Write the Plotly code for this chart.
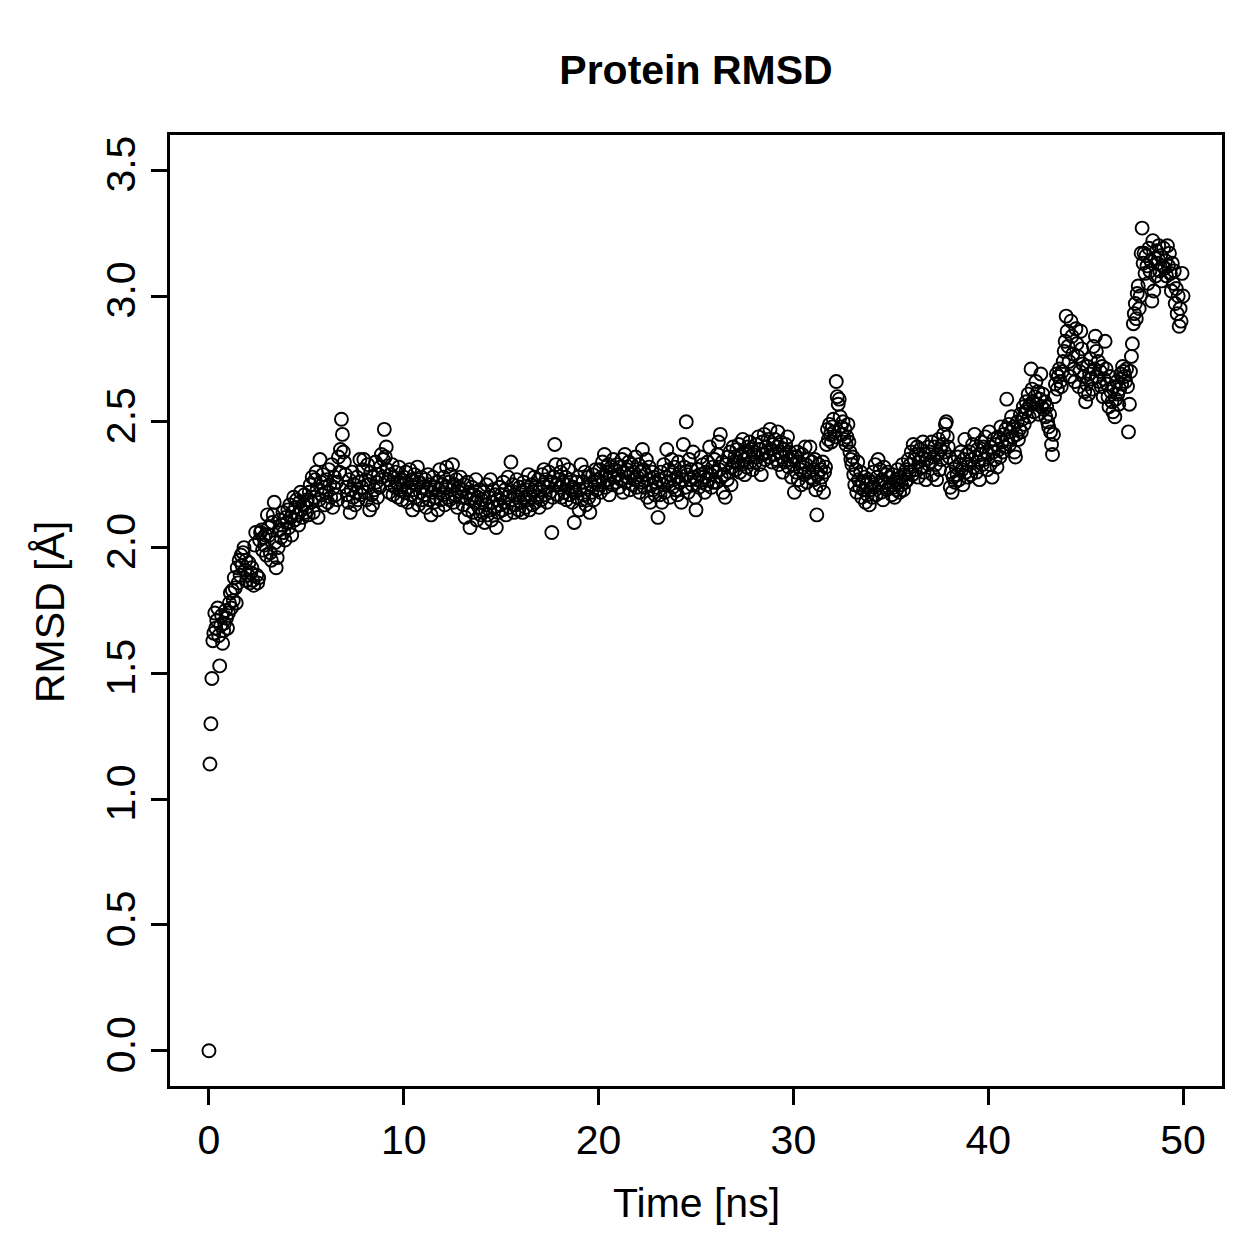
import plotly.graph_objects as go

# RMSD values (Å), one sample every 0.05 ns, rows = 1 ns each
rmsd_00 = [0.00, 1.14, 1.30, 1.48, 1.63, 1.66, 1.74, 1.68, 1.71, 1.76, 1.65, 1.53, 1.69, 1.73, 1.62, 1.67, 1.70, 1.75, 1.72, 1.68]
rmsd_01 = [1.74, 1.78, 1.82, 1.76, 1.83, 1.79, 1.88, 1.84, 1.78, 1.92, 1.86, 1.95, 1.89, 1.97, 1.93, 1.98, 2.00, 1.91, 1.95, 1.87]
rmsd_02 = [1.89, 1.94, 1.86, 1.90, 1.92, 1.87, 1.85, 2.01, 2.06, 1.89, 1.86, 1.88, 2.03, 2.06, 2.07, 1.99, 2.04, 2.01, 2.05, 1.97]
rmsd_03 = [2.13, 2.08, 2.05, 1.98, 1.95, 2.10, 2.13, 2.18, 2.02, 1.92, 1.96, 2.00, 2.07, 2.11, 2.04, 2.09, 2.14, 2.06, 2.03, 2.12]
rmsd_04 = [2.10, 2.15, 2.08, 2.17, 2.12, 2.05, 2.14, 2.20, 2.11, 2.16, 2.19, 2.13, 2.09, 2.18, 2.22, 2.15, 2.12, 2.17, 2.21, 2.14]
rmsd_05 = [2.16, 2.19, 2.13, 2.22, 2.25, 2.18, 2.28, 2.14, 2.20, 2.27, 2.30, 2.23, 2.12, 2.19, 2.35, 2.26, 2.21, 2.29, 2.24, 2.17]
rmsd_06 = [2.22, 2.27, 2.18, 2.31, 2.25, 2.20, 2.33, 2.16, 2.24, 2.28, 2.21, 2.26, 2.19, 2.36, 2.30, 2.39, 2.51, 2.45, 2.38, 2.34]
rmsd_07 = [2.29, 2.24, 2.21, 2.18, 2.27, 2.14, 2.23, 2.30, 2.20, 2.25, 2.17, 2.22, 2.28, 2.19, 2.26, 2.35, 2.21, 2.24, 2.31, 2.35]
rmsd_08 = [2.22, 2.27, 2.19, 2.33, 2.25, 2.15, 2.30, 2.21, 2.17, 2.28, 2.23, 2.34, 2.26, 2.20, 2.29, 2.24, 2.32, 2.37, 2.28, 2.35]
rmsd_09 = [2.47, 2.36, 2.40, 2.31, 2.27, 2.22, 2.29, 2.25, 2.33, 2.21, 2.28, 2.24, 2.30, 2.26, 2.20, 2.32, 2.23, 2.27, 2.19, 2.25]
rmsd_10 = [2.28, 2.22, 2.30, 2.26, 2.18, 2.24, 2.31, 2.21, 2.27, 2.15, 2.23, 2.29, 2.20, 2.25, 2.32, 2.17, 2.26, 2.22, 2.28, 2.19]
rmsd_11 = [2.24, 2.21, 2.27, 2.16, 2.23, 2.29, 2.19, 2.25, 2.13, 2.22, 2.28, 2.18, 2.24, 2.20, 2.26, 2.15, 2.23, 2.31, 2.19, 2.25]
rmsd_12 = [2.21, 2.28, 2.17, 2.24, 2.32, 2.20, 2.26, 2.19, 2.29, 2.23, 2.33, 2.18, 2.25, 2.21, 2.27, 2.16, 2.24, 2.22, 2.28, 2.20]
rmsd_13 = [2.23, 2.17, 2.25, 2.12, 2.20, 2.26, 2.15, 2.22, 2.08, 2.19, 2.24, 2.14, 2.21, 2.18, 2.27, 2.11, 2.20, 2.16, 2.23, 2.13]
rmsd_14 = [2.19, 2.14, 2.22, 2.10, 2.17, 2.25, 2.13, 2.20, 2.15, 2.27, 2.11, 2.18, 2.23, 2.16, 2.21, 2.08, 2.19, 2.14, 2.24, 2.17]
rmsd_15 = [2.21, 2.15, 2.26, 2.18, 2.23, 2.13, 2.20, 2.28, 2.16, 2.22, 2.34, 2.19, 2.25, 2.14, 2.21, 2.17, 2.27, 2.20, 2.15, 2.24]
rmsd_16 = [2.18, 2.22, 2.14, 2.26, 2.20, 2.16, 2.23, 2.19, 2.29, 2.15, 2.21, 2.25, 2.17, 2.22, 2.28, 2.18, 2.24, 2.20, 2.27, 2.16]
rmsd_17 = [2.23, 2.19, 2.29, 2.25, 2.31, 2.21, 2.27, 2.18, 2.24, 2.30, 2.22, 2.26, 2.06, 2.20, 2.28, 2.41, 2.33, 2.25, 2.21, 2.27]
rmsd_18 = [2.24, 2.30, 2.20, 2.26, 2.33, 2.22, 2.28, 2.19, 2.25, 2.31, 2.21, 2.27, 2.23, 2.18, 2.24, 2.10, 2.22, 2.26, 2.20, 2.28]
rmsd_19 = [2.15, 2.23, 2.33, 2.19, 2.26, 2.21, 2.30, 2.17, 2.24, 2.28, 2.20, 2.14, 2.25, 2.22, 2.29, 2.19, 2.26, 2.31, 2.23, 2.27]
rmsd_20 = [2.25, 2.31, 2.22, 2.28, 2.34, 2.26, 2.37, 2.24, 2.30, 2.27, 2.33, 2.21, 2.29, 2.32, 2.25, 2.35, 2.28, 2.31, 2.26, 2.33]
rmsd_21 = [2.29, 2.24, 2.32, 2.27, 2.35, 2.22, 2.30, 2.37, 2.26, 2.31, 2.28, 2.34, 2.23, 2.29, 2.33, 2.25, 2.30, 2.27, 2.36, 2.24]
rmsd_22 = [2.28, 2.33, 2.22, 2.30, 2.26, 2.39, 2.31, 2.24, 2.29, 2.35, 2.20, 2.27, 2.32, 2.18, 2.25, 2.30, 2.23, 2.28, 2.21, 2.26]
rmsd_23 = [2.24, 2.12, 2.27, 2.21, 2.30, 2.18, 2.25, 2.33, 2.22, 2.28, 2.39, 2.26, 2.31, 2.20, 2.29, 2.35, 2.24, 2.27, 2.32, 2.23]
rmsd_24 = [2.28, 2.21, 2.34, 2.26, 2.30, 2.18, 2.27, 2.41, 2.32, 2.24, 2.50, 2.29, 2.22, 2.35, 2.27, 2.31, 2.25, 2.38, 2.28, 2.20]
rmsd_25 = [2.15, 2.27, 2.31, 2.24, 2.29, 2.36, 2.26, 2.33, 2.28, 2.22, 2.30, 2.25, 2.34, 2.27, 2.40, 2.29, 2.24, 2.32, 2.26, 2.35]
rmsd_26 = [2.30, 2.26, 2.37, 2.42, 2.31, 2.45, 2.28, 2.34, 2.22, 2.29, 2.20, 2.33, 2.27, 2.36, 2.30, 2.38, 2.25, 2.32, 2.40, 2.34]
rmsd_27 = [2.36, 2.31, 2.39, 2.34, 2.41, 2.30, 2.37, 2.33, 2.43, 2.35, 2.29, 2.38, 2.32, 2.40, 2.36, 2.42, 2.34, 2.39, 2.31, 2.37]
rmsd_28 = [2.38, 2.34, 2.41, 2.36, 2.44, 2.33, 2.39, 2.29, 2.42, 2.37, 2.45, 2.35, 2.40, 2.38, 2.43, 2.36, 2.47, 2.39, 2.34, 2.41]
rmsd_29 = [2.37, 2.43, 2.35, 2.40, 2.46, 2.33, 2.38, 2.42, 2.36, 2.30, 2.39, 2.34, 2.41, 2.37, 2.44, 2.32, 2.38, 2.35, 2.28, 2.36]
rmsd_30 = [2.33, 2.22, 2.36, 2.30, 2.38, 2.27, 2.34, 2.31, 2.25, 2.37, 2.32, 2.29, 2.40, 2.33, 2.26, 2.35, 2.30, 2.40, 2.28, 2.34]
rmsd_31 = [2.31, 2.27, 2.35, 2.23, 2.13, 2.29, 2.33, 2.25, 2.31, 2.28, 2.34, 2.22, 2.30, 2.32, 2.41, 2.47, 2.43, 2.49, 2.45, 2.42]
rmsd_32 = [2.48, 2.51, 2.46, 2.44, 2.66, 2.60, 2.57, 2.59, 2.52, 2.48, 2.45, 2.50, 2.43, 2.47, 2.41, 2.44, 2.49, 2.42, 2.38, 2.35]
rmsd_33 = [2.33, 2.36, 2.29, 2.25, 2.31, 2.22, 2.34, 2.27, 2.24, 2.30, 2.20, 2.26, 2.23, 2.28, 2.18, 2.25, 2.21, 2.27, 2.17, 2.23]
rmsd_34 = [2.26, 2.20, 2.30, 2.24, 2.33, 2.21, 2.28, 2.35, 2.25, 2.31, 2.22, 2.27, 2.19, 2.32, 2.26, 2.29, 2.23, 2.30, 2.24, 2.28]
rmsd_35 = [2.25, 2.21, 2.29, 2.24, 2.20, 2.27, 2.23, 2.31, 2.26, 2.22, 2.28, 2.25, 2.33, 2.23, 2.29, 2.26, 2.31, 2.27, 2.35, 2.30]
rmsd_36 = [2.33, 2.38, 2.29, 2.41, 2.35, 2.31, 2.37, 2.40, 2.28, 2.34, 2.39, 2.32, 2.36, 2.42, 2.30, 2.37, 2.27, 2.35, 2.40, 2.33]
rmsd_37 = [2.38, 2.34, 2.42, 2.29, 2.36, 2.40, 2.33, 2.27, 2.37, 2.43, 2.31, 2.39, 2.35, 2.41, 2.45, 2.38, 2.49, 2.50, 2.44, 2.40]
rmsd_38 = [2.36, 2.24, 2.30, 2.22, 2.28, 2.34, 2.26, 2.32, 2.29, 2.36, 2.27, 2.33, 2.38, 2.31, 2.25, 2.35, 2.43, 2.30, 2.37, 2.28]
rmsd_39 = [2.33, 2.38, 2.29, 2.35, 2.41, 2.32, 2.45, 2.36, 2.30, 2.39, 2.34, 2.27, 2.37, 2.42, 2.33, 2.40, 2.35, 2.44, 2.38, 2.31]
rmsd_40 = [2.37, 2.46, 2.33, 2.40, 2.28, 2.38, 2.43, 2.35, 2.41, 2.32, 2.44, 2.39, 2.36, 2.48, 2.42, 2.38, 2.45, 2.40, 2.47, 2.59]
rmsd_41 = [2.43, 2.49, 2.41, 2.46, 2.52, 2.44, 2.48, 2.38, 2.36, 2.45, 2.50, 2.43, 2.47, 2.53, 2.46, 2.51, 2.56, 2.49, 2.54, 2.58]
rmsd_42 = [2.55, 2.61, 2.52, 2.57, 2.71, 2.63, 2.58, 2.54, 2.60, 2.66, 2.57, 2.62, 2.53, 2.59, 2.69, 2.56, 2.61, 2.55, 2.58, 2.52]
rmsd_43 = [2.56, 2.50, 2.48, 2.53, 2.46, 2.41, 2.37, 2.45, 2.60, 2.65, 2.69, 2.63, 2.68, 2.71, 2.66, 2.64, 2.70, 2.74, 2.78, 2.82]
rmsd_44 = [2.92, 2.86, 2.80, 2.74, 2.68, 2.90, 2.84, 2.77, 2.71, 2.66, 2.87, 2.81, 2.76, 2.64, 2.70, 2.86, 2.79, 2.73, 2.68, 2.62]
rmsd_45 = [2.58, 2.65, 2.72, 2.61, 2.69, 2.75, 2.67, 2.63, 2.80, 2.71, 2.84, 2.78, 2.68, 2.74, 2.66, 2.70, 2.64, 2.72, 2.60, 2.67]
rmsd_46 = [2.82, 2.71, 2.65, 2.60, 2.56, 2.68, 2.62, 2.58, 2.54, 2.64, 2.52, 2.59, 2.66, 2.61, 2.57, 2.63, 2.69, 2.65, 2.72, 2.70]
rmsd_47 = [2.68, 2.66, 2.71, 2.64, 2.46, 2.57, 2.70, 2.76, 2.81, 2.89, 2.93, 2.97, 2.91, 3.01, 3.04, 2.95, 3.00, 3.17, 3.27, 3.13]
rmsd_48 = [3.17, 3.09, 3.16, 3.12, 3.05, 3.19, 3.10, 3.14, 2.98, 3.22, 3.02, 3.15, 3.08, 3.18, 3.13, 3.20, 3.10, 3.16, 3.06, 3.12]
rmsd_49 = [3.19, 3.11, 3.14, 3.08, 3.20, 3.12, 3.17, 3.09, 3.02, 3.13, 3.05, 3.10, 2.97, 3.03, 2.93, 3.00, 2.88, 2.95, 2.90, 3.09]
rmsd_50 = [3.00]

rows = [rmsd_00, rmsd_01, rmsd_02, rmsd_03, rmsd_04, rmsd_05, rmsd_06, rmsd_07, rmsd_08, rmsd_09,
        rmsd_10, rmsd_11, rmsd_12, rmsd_13, rmsd_14, rmsd_15, rmsd_16, rmsd_17, rmsd_18, rmsd_19,
        rmsd_20, rmsd_21, rmsd_22, rmsd_23, rmsd_24, rmsd_25, rmsd_26, rmsd_27, rmsd_28, rmsd_29,
        rmsd_30, rmsd_31, rmsd_32, rmsd_33, rmsd_34, rmsd_35, rmsd_36, rmsd_37, rmsd_38, rmsd_39,
        rmsd_40, rmsd_41, rmsd_42, rmsd_43, rmsd_44, rmsd_45, rmsd_46, rmsd_47, rmsd_48, rmsd_49,
        rmsd_50]
rmsd = [v for r in rows for v in r]
time_ns = [round(i * 0.05, 2) for i in range(len(rmsd))]

x_ticks = [0, 10, 20, 30, 40, 50]
y_ticks = [0.0, 0.5, 1.0, 1.5, 2.0, 2.5, 3.0, 3.5]

FONT = "Liberation Sans, Arial, Helvetica, sans-serif"
FS = 41

fig = go.Figure()
fig.add_trace(go.Scatter(
    x=time_ns, y=rmsd, mode="markers",
    marker=dict(symbol="circle-open", size=13, color="black", line=dict(width=1.9, color="black")),
    showlegend=False,
))

fig.update_layout(
    width=1259, height=1259,
    margin=dict(l=170, r=37, t=135, b=173),
    paper_bgcolor="white", plot_bgcolor="white",
    font=dict(family=FONT, size=FS, color="black"),
    title=dict(text="<b>Protein RMSD</b>", x=(170 + 1222) / 2 / 1259, xanchor="center",
               y=1 - 70 / 1259, yanchor="middle", yref="container",
               font=dict(family=FONT, size=FS, color="black")),
)
fig.update_xaxes(
    range=[-2, 52], tickvals=x_ticks, ticktext=[str(t) for t in x_ticks],
    showgrid=False, zeroline=False, showline=True, mirror=True,
    linecolor="black", linewidth=3,
    ticks="outside", ticklen=16, tickwidth=3, tickcolor="black",
    tickfont=dict(family=FONT, size=FS),
)
fig.update_yaxes(
    range=[-0.14, 3.64], tickvals=y_ticks, ticktext=[f"{t:.1f}" for t in y_ticks],
    showgrid=False, zeroline=False, showline=True, mirror=True,
    linecolor="black", linewidth=3,
    ticks="outside", ticklen=16, tickwidth=3, tickcolor="black",
    tickangle=-90, tickfont=dict(family=FONT, size=FS),
)
fig.add_annotation(text="Time [ns]", xref="paper", yref="paper",
                   x=0.5, y=(1086 - 1203) / 951, xanchor="center", yanchor="middle",
                   showarrow=False, font=dict(family=FONT, size=FS))
fig.add_annotation(text="RMSD [Å]", xref="paper", yref="paper",
                   x=(50 - 170) / 1052, y=(1086 - 612) / 951, xanchor="center", yanchor="middle",
                   textangle=-90, showarrow=False, font=dict(family=FONT, size=FS))

fig.write_html("out.html")
